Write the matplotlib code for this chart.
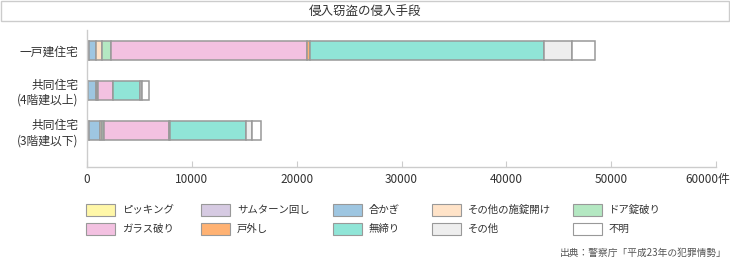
import matplotlib.pyplot as plt
from matplotlib.patches import Rectangle
from matplotlib.transforms import ScaledTranslation
import numpy as np

plt.rcParams['font.family'] = ['Noto Sans CJK JP', 'DejaVu Sans']

# data (件)
categories = ['一戸建住宅', '共同住宅\n(4階建以上)', '共同住宅\n(3階建以下)']
methods = ['ピッキング', 'サムターン回し', '合かぎ', 'その他の施錠開け', 'ドア錠破り',
           'ガラス破り', '戸外し', '無締り', 'その他', '不明']
picking = [20, 10, 20]
samturn = [140, 80, 130]
aikagi = [700, 760, 1080]
other_lock = [540, 100, 190]
door_lock = [890, 60, 190]
glass = [18720, 1460, 6200]
door_off = [250, 20, 150]
unlocked = [22330, 2570, 7180]
other = [2700, 190, 570]
unknown = [2190, 670, 860]
series = [picking, samturn, aikagi, other_lock, door_lock,
          glass, door_off, unlocked, other, unknown]
colors = ['#FFF7A8', '#D6CAE2', '#9EC6E1', '#FFE3C8', '#B4E8C2',
          '#F3C1E1', '#FFB273', '#90E5D7', '#EEEEEE', '#FFFFFF']
xticks = [0, 10000, 20000, 30000, 40000, 50000, 60000]
xticklabels = ['0', '10000', '20000', '30000', '40000', '50000', '60000件']

W, H = 730, 259
fig = plt.figure(figsize=(W / 100, H / 100), dpi=100)

def fx(px):
    return px / W

def fy(py):
    return 1 - py / H

# title box
fig.add_artist(Rectangle((fx(1), fy(21)), fx(728), 20 / H, transform=fig.transFigure,
                         facecolor='white', edgecolor='#cccccc', linewidth=1))
fig.text(fx(365), fy(11), '侵入窃盗の侵入手段', ha='center', va='center',
         fontsize=9, color='#333333')

ax = fig.add_axes([fx(87), fy(167), fx(716 - 87), (167 - 30) / H])
y = np.arange(len(categories))
left = np.zeros(len(categories))
for vals, c in zip(series, colors):
    ax.barh(y, vals, left=left, height=0.475, color=c, edgecolor='#999999', linewidth=1.1)
    left += np.array(vals)

ax.set_xlim(0, 60000)
ax.set_ylim(2.91, -0.51)
ax.set_yticks(y)
ax.set_yticklabels(categories, fontsize=8.5, color='#333333', linespacing=1.2)
ax.tick_params(axis='y', length=0, pad=6)
ax.set_xticks(xticks)
ax.set_xticklabels(xticklabels, fontsize=8.5, color='#333333')
ax.tick_params(axis='x', direction='in', length=4, color='#cccccc', pad=4)
for s in ['top', 'right']:
    ax.spines[s].set_visible(False)
for s in ['left', 'bottom']:
    ax.spines[s].set_color('#cccccc')
    ax.spines[s].set_linewidth(1)

# keep the last label (with 件) inside the figure
last = ax.get_xticklabels()[-1]
last.set_transform(last.get_transform() + ScaledTranslation(-8 / 100, 0, fig.dpi_scale_trans))

# legend, two rows of five
col_x = [86, 201, 333, 432, 573]
row_y = [210, 229]
for i, (name, c) in enumerate(zip(methods, colors)):
    cx = col_x[i % 5]
    ry = row_y[i // 5]
    fig.add_artist(Rectangle((fx(cx), fy(ry + 6)), 29 / W, 12 / H, transform=fig.transFigure,
                             facecolor=c, edgecolor='#999999', linewidth=0.8))
    fig.text(fx(cx + 36), fy(ry), name, ha='left', va='center', fontsize=7.5, color='#333333')

fig.text(fx(727), fy(253), '出典：警察庁「平成23年の犯罪情勢」', ha='right', va='center',
         fontsize=7, color='#555555')

fig.savefig('out.png', dpi=100)
